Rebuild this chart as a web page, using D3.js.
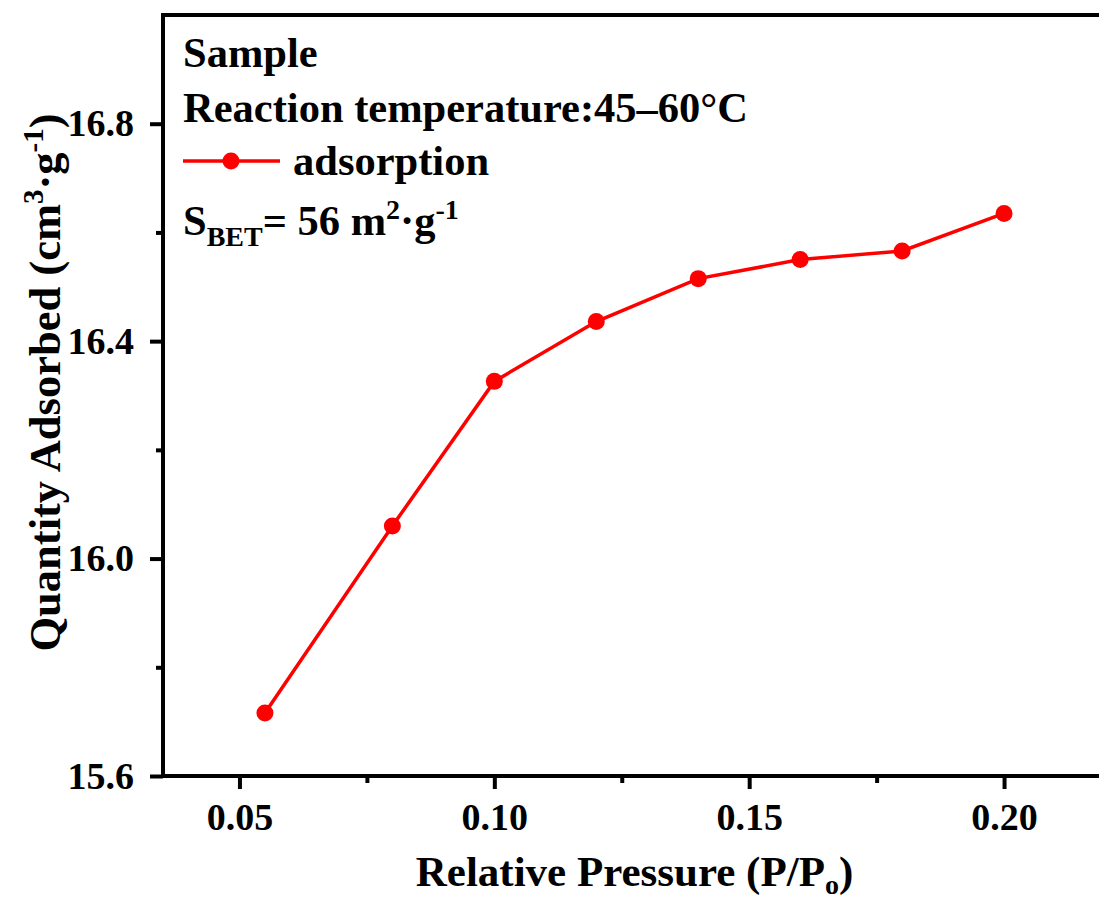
<!DOCTYPE html>
<html>
<head>
<meta charset="utf-8">
<script src="https://cdn.jsdelivr.net/npm/d3@7/dist/d3.min.js"></script>
<style>
  html, body { margin: 0; padding: 0; background: #fff; }
  svg { display: block; }
  text { font-family: "Liberation Serif", "Times New Roman", serif; font-weight: bold; fill: #000; }
</style>
</head>
<body>
<svg id="chart" width="1099" height="899"></svg>
<script>
// ---- data ----
const pressure = [0.055, 0.08, 0.10, 0.12, 0.14, 0.16, 0.18, 0.20];
const adsorbed = [15.716, 16.06, 16.326, 16.436, 16.515, 16.55, 16.566, 16.635];
const xMajorTicks = [0.05, 0.10, 0.15, 0.20];
const xMinorTicks = [0.075, 0.125, 0.175];
const yMajorTicks = [15.6, 16.0, 16.4, 16.8];
const yMinorTicks = [15.8, 16.2, 16.6];
const xTickLabels = ["0.05", "0.10", "0.15", "0.20"];
const yTickLabels = ["15.6", "16.0", "16.4", "16.8"];

const svg = d3.select("#chart");
const L = 163, R = 1106, T = 15, B = 776;

const x = d3.scaleLinear().domain([0.035, 0.22]).range([L, R]);
const y = d3.scaleLinear().domain([15.6, 17.0]).range([B, T]);

// axes
const xAxis = d3.axisBottom(x).tickValues(xMajorTicks)
  .tickFormat((d, i) => xTickLabels[i]).tickSize(13).tickSizeOuter(0).tickPadding(14);
const gx = svg.append("g").attr("transform", `translate(0,${B})`).call(xAxis);
gx.select(".domain").remove();
gx.selectAll(".tick line").attr("stroke", "#000").attr("stroke-width", 4);
gx.selectAll(".tick text").attr("font-size", 38).attr("font-family", null);

const xMinor = d3.axisBottom(x).tickValues(xMinorTicks).tickFormat("").tickSize(7).tickSizeOuter(0);
const gxm = svg.append("g").attr("transform", `translate(0,${B})`).call(xMinor);
gxm.select(".domain").remove();
gxm.selectAll(".tick line").attr("stroke", "#000").attr("stroke-width", 4);

const yAxis = d3.axisLeft(y).tickValues(yMajorTicks)
  .tickFormat((d, i) => yTickLabels[i]).tickSize(13).tickSizeOuter(0).tickPadding(16);
const gy = svg.append("g").attr("transform", `translate(${L},0)`).call(yAxis);
gy.select(".domain").remove();
gy.selectAll(".tick line").attr("stroke", "#000").attr("stroke-width", 4);
gy.selectAll(".tick text").attr("font-size", 38).attr("font-family", null);

const yMinor = d3.axisLeft(y).tickValues(yMinorTicks).tickFormat("").tickSize(7).tickSizeOuter(0);
const gym = svg.append("g").attr("transform", `translate(${L},0)`).call(yMinor);
gym.select(".domain").remove();
gym.selectAll(".tick line").attr("stroke", "#000").attr("stroke-width", 4);

// frame
svg.append("rect").attr("x", L).attr("y", T).attr("width", R - L).attr("height", B - T)
  .attr("fill", "none").attr("stroke", "#000").attr("stroke-width", 4);

// data line
const pts = pressure.map((p, i) => [p, adsorbed[i]]);
svg.append("path").datum(pts)
  .attr("d", d3.line().x(d => x(d[0])).y(d => y(d[1])))
  .attr("fill", "none").attr("stroke", "#ff0000").attr("stroke-width", 3.5);
svg.selectAll("circle.pt").data(pts).enter().append("circle")
  .attr("class", "pt").attr("cx", d => x(d[0])).attr("cy", d => y(d[1]))
  .attr("r", 8.5).attr("fill", "#ff0000");

// legend / annotations
const FS = 42.5;
svg.append("text").attr("x", 183).attr("y", 67).attr("font-size", FS).text("Sample");
svg.append("text").attr("x", 183).attr("y", 122).attr("font-size", FS).text("Reaction temperature:45\u201360\u00B0C");
svg.append("line").attr("x1", 183).attr("x2", 280).attr("y1", 161).attr("y2", 161)
  .attr("stroke", "#ff0000").attr("stroke-width", 3.5);
svg.append("circle").attr("cx", 231).attr("cy", 161).attr("r", 8.5).attr("fill", "#ff0000");
svg.append("text").attr("x", 293).attr("y", 175).attr("font-size", FS).text("adsorption");

const sb = svg.append("text").attr("x", 183).attr("y", 235).attr("font-size", FS);
sb.append("tspan").text("S");
sb.append("tspan").attr("font-size", 28).attr("dy", 11).text("BET");
sb.append("tspan").attr("dy", -11).text("= 56 m");
sb.append("tspan").attr("font-size", 28).attr("dy", -16).text("2");
sb.append("tspan").attr("dy", 16).text("\u00B7g");
sb.append("tspan").attr("font-size", 28).attr("dy", -16).text("-1");

// x axis title
const xt = svg.append("text").attr("x", (L + R) / 2).attr("y", 886)
  .attr("text-anchor", "middle").attr("font-size", 43);
xt.append("tspan").text("Relative Pressure (P/P");
xt.append("tspan").attr("font-size", 28).attr("dy", 8).text("o");
xt.append("tspan").attr("dy", -8).text(")");

// y axis title
const yt = svg.append("text").attr("transform", `translate(60,${(T + B) / 2 - 13}) rotate(-90)`)
  .attr("text-anchor", "middle").attr("font-size", 44.5);
yt.append("tspan").text("Quantity Adsorbed (cm");
yt.append("tspan").attr("font-size", 29).attr("dy", -17).text("3");
yt.append("tspan").attr("dy", 17).text("\u00B7g");
yt.append("tspan").attr("font-size", 29).attr("dy", -17).text("-1");
yt.append("tspan").attr("dy", 17).text(")");
</script>
</body>
</html>
